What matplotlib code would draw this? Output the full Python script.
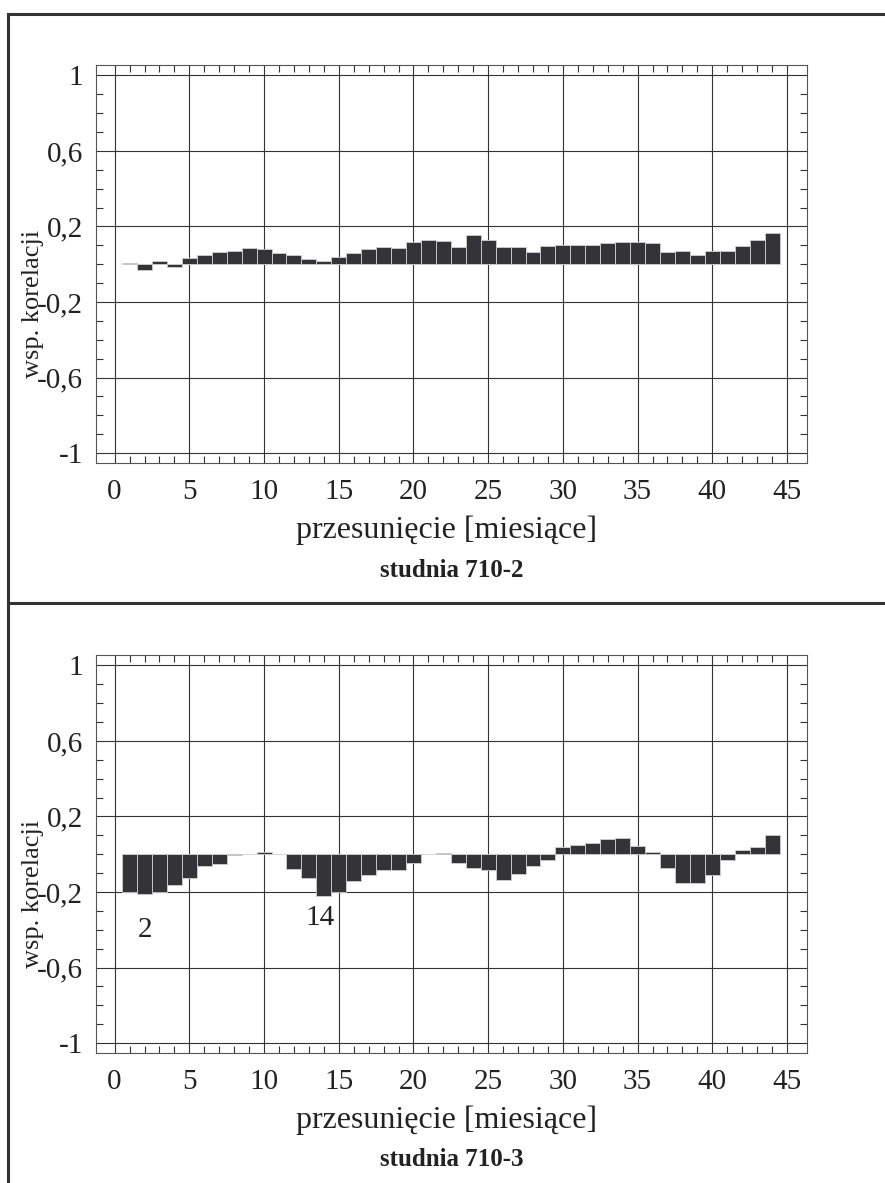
import matplotlib.pyplot as plt
from matplotlib.lines import Line2D
from matplotlib.ticker import MultipleLocator, FixedLocator

# lag in months
lags = list(range(1, 45))

# correlation coefficients
corr_710_2 = [0.005, -0.03, 0.016, -0.017, 0.034, 0.048, 0.067, 0.072, 0.085, 0.078,
              0.06, 0.048, 0.028, 0.016, 0.04, 0.06, 0.078, 0.092, 0.085, 0.117,
              0.129, 0.122, 0.09, 0.154, 0.129, 0.09, 0.09, 0.065, 0.097, 0.102,
              0.102, 0.102, 0.11, 0.117, 0.117, 0.11, 0.065, 0.071, 0.051, 0.071,
              0.071, 0.097, 0.129, 0.166]
corr_710_3 = [-0.198, -0.209, -0.2, -0.164, -0.126, -0.063, -0.054, -0.005, 0.003, 0.01,
              0.0, -0.079, -0.124, -0.222, -0.2, -0.144, -0.112, -0.086, -0.086, -0.047,
              0.0, 0.005, -0.047, -0.074, -0.086, -0.139, -0.106, -0.061, -0.029, 0.036,
              0.05, 0.061, 0.081, 0.088, 0.041, 0.014, -0.074, -0.151, -0.151, -0.112,
              -0.029, 0.022, 0.036, 0.103]

panels = [("studnia 710-2", corr_710_2, []),
          ("studnia 710-3", corr_710_3, [(2, -0.40, "2"), (13.75, -0.34, "14")])]

yticks = [-1, -0.6, -0.2, 0.2, 0.6, 1]
ytick_labels = ["-1", "-0,6", "-0,2", "0,2", "0,6", "1"]
xticks = list(range(0, 50, 5))
xminor = [i for i in range(1, 45) if i % 5]

W, H = 885, 1183
plt.rcParams['font.family'] = ['Liberation Serif', 'DejaVu Serif']
fig = plt.figure(figsize=(W / 100, H / 100), dpi=100)


def fx(px):
    return px / W


def fy(py):
    return 1 - py / H


offsets = [0, 590]
for (title, vals, notes), off in zip(panels, offsets):
    top, bot = 65 + off, 462.5 + off
    ax = fig.add_axes([fx(95.5), fy(bot), fx(807) - fx(95.5), (bot - top) / H])
    ax.bar(lags, vals, width=1.0, color='#333338', edgecolor='#d0d0d0', linewidth=0.6, zorder=3)
    ax.set_xlim(-1.28, 46.34)
    ax.set_ylim(-1.05, 1.055)

    ax.xaxis.set_major_locator(FixedLocator(xticks))
    ax.yaxis.set_major_locator(FixedLocator(yticks))
    ax.set_yticklabels(ytick_labels)
    ax.xaxis.set_minor_locator(FixedLocator(xminor))
    ax.yaxis.set_minor_locator(MultipleLocator(0.1))
    ax.tick_params(which='major', length=0, labelsize=21, colors='#222222')
    ax.tick_params(axis='x', which='major', pad=12)
    ax.tick_params(axis='y', which='major', pad=9)
    ax.tick_params(which='minor', direction='in', length=5, width=0.8, color='#333333',
                   top=True, bottom=True, left=True, right=True)
    ax.grid(True, which='major', color='#333333', linewidth=0.8, zorder=1)
    for s in ax.spines.values():
        s.set_color('#555555')
        s.set_linewidth(0.8)

    for x, y, t in notes:
        ax.text(x, y, t, fontsize=21, ha='center', va='center', color='#222222')

    fig.text(fx(447), fy(530 + off), "przesunięcie [miesiące]", fontsize=23,
             ha='center', va='center', color='#222222')
    fig.text(fx(451.5), fy(570 + off), title, fontsize=18, fontweight='bold',
             ha='center', va='center', color='#222222')
    fig.text(fx(33), fy(304 + off), "wsp. korelacji", fontsize=19, rotation=90,
             ha='center', va='center', color='#222222')

# outer frame lines
frame = dict(color='#333333', linewidth=2.2, transform=fig.transFigure)
fig.add_artist(Line2D([fx(8), fx(8)], [fy(14), fy(H)], **frame))
fig.add_artist(Line2D([fx(8), fx(W)], [fy(14), fy(14)], **frame))
fig.add_artist(Line2D([fx(8), fx(W)], [fy(603), fy(603)], **frame))

plt.savefig("out.png", dpi=100)
